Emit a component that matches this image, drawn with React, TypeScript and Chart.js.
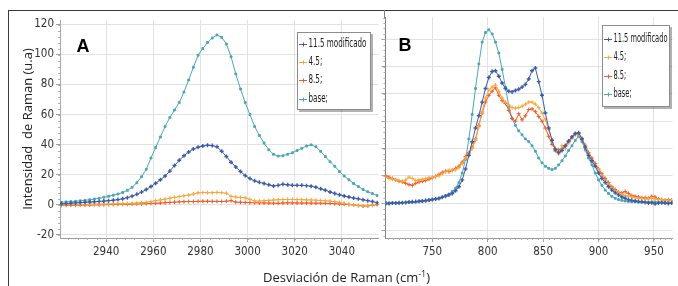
import React, { useEffect, useRef } from "react";
import { Chart, registerables } from "chart.js";

Chart.register(...registerables);

const SERIES_NAMES = ["11.5 modificado", "4.5;", "8.5;", "base;"];
const SERIES_COLORS = ["#3D5CA8", "#F8A53C", "#EF5B27", "#4BA7B7"];
const POINT_STYLES = ["cross", "cross", "cross", "rect"];

// ---------- Panel A ----------
const xA = [
  2921, 2923, 2925, 2927, 2929, 2931, 2933, 2935, 2937, 2939,
  2941, 2943, 2945, 2947, 2949, 2951, 2953, 2955, 2957, 2959,
  2961, 2963, 2965, 2967, 2969, 2971, 2973, 2975, 2977, 2979,
  2981, 2983, 2985, 2987, 2989, 2991, 2993, 2995, 2997, 2999,
  3001, 3003, 3005, 3007, 3009, 3011, 3013, 3015, 3017, 3019,
  3021, 3023, 3025, 3027, 3029, 3031, 3033, 3035, 3037, 3039,
  3041, 3043, 3045, 3047, 3049, 3051, 3053, 3055,
];
const a115 = [
  0.5, 0.7, 0.9, 1.1, 1.3, 1.5, 1.7, 1.9, 2.1, 2.3,
  2.6, 2.9, 3.3, 3.8, 4.6, 5.6, 6.8, 8.3, 10, 12,
  14.2, 16.5, 19, 22.3, 26, 29.5, 32.5, 35, 37, 38.2,
  39, 39.5, 39.3, 38.5, 35.5, 32, 28.2, 25, 22, 19.3,
  17.3, 15.8, 14.8, 14, 13.2, 12.4, 12.8, 13.5, 13.2, 12.8,
  12.8, 12.8, 12.6, 12.2, 11.5, 10.5, 9.5, 8.4, 7.4, 6.5,
  5.7, 5.0, 4.3, 3.8, 3.2, 2.6, 2.0, 1.2,
];
const a45 = [
  -0.3, -0.2, 0, 0, 0.1, 0.1, 0.2, 0.2, 0.3, 0.3,
  0.4, 0.5, 0.5, 0.6, 0.7, 0.8, 1.0, 1.2, 1.5, 2.0,
  2.6, 3.1, 3.6, 4.2, 4.8, 5.3, 5.8, 6.3, 7.0, 7.8,
  8.0, 7.9, 7.9, 8.1, 7.9, 7.6, 5.5, 5.0, 4.7, 4.5,
  3.5, 2.4, 2.3, 2.5, 2.8, 3.0, 3.2, 3.3, 3.4, 3.4,
  3.3, 3.2, 3.1, 3.0, 2.9, 2.7, 2.5, 2.3, 2.0, 1.5,
  0.8, 0.2, -0.3, -0.7, -1.0, -0.8, -0.3, 0.2,
];
const a85 = [
  -0.6, -0.5, -0.5, -0.4, -0.4, -0.3, -0.3, -0.2, -0.2, -0.1,
  0, 0, 0.1, 0.2, 0.2, 0.3, 0.4, 0.5, 0.6, 0.7,
  0.8, 1.0, 1.2, 1.4, 1.6, 1.8, 1.9, 2.0, 2.0, 2.1,
  2.2, 2.2, 2.1, 2.1, 2.0, 2.2, 2.6, 1.6, 1.5, 1.4,
  1.3, 1.2, 1.1, 1.0, 1.0, 0.9, 0.8, 1.0, 1.1, 1.1,
  1.0, 1.0, 1.0, 1.0, 0.9, 0.9, 0.8, 0.7, 0.6, 0.4,
  0.2, 0, -0.3, -0.7, -1.0, -0.9, -0.5, -0.1,
];
const aBase = [
  1.5, 1.8, 2.0, 2.2, 2.5, 2.8, 3.2, 3.7, 4.2, 4.8,
  5.5, 6.2, 7.0, 8.0, 9.5, 11.5, 14.5, 18.5, 23.5, 31,
  38, 45, 52, 58, 63, 68, 75, 83, 91.5, 99.5,
  104, 108, 111, 113, 111.5, 107, 98.5, 87, 77, 68,
  60, 52, 46, 41, 36.5, 33.5, 32.3, 32.5, 33.5, 34.5,
  36, 37.5, 39, 39.8, 38.5, 35.5, 32, 28.5, 25.5, 22,
  19, 16.5, 14, 12, 10, 8.5, 7.3, 6,
];
const xTicksA = [2940, 2960, 2980, 3000, 3020, 3040];
const yTicksA = [-20, 0, 20, 40, 60, 80, 100, 120];

// ---------- Panel B ----------
const xB = [
  708, 711, 714, 717, 720, 723, 726, 729, 732, 735,
  738, 741, 744, 747, 750, 753, 756, 759, 762, 765,
  768, 771, 774, 777, 780, 783, 786, 789, 792, 795,
  798, 801, 804, 807, 810, 813, 816, 819, 822, 825,
  828, 831, 834, 837, 840, 843, 846, 849, 852, 855,
  858, 861, 864, 867, 870, 873, 876, 879, 882, 885,
  888, 891, 894, 897, 900, 903, 906, 909, 912, 915,
  918, 921, 924, 927, 930, 933, 936, 939, 942, 945,
  948, 951, 954, 957, 960, 963, 966,
];
const b115 = [
  -0.5, -0.3, 0, 0, 0.2, 0.3, 0.5, 0.7, 0.9, 1.1,
  1.3, 1.6, 1.9, 2.2, 2.6, 3.0, 3.4, 4.2, 5.0, 6.0,
  7.0, 9.0, 12, 17, 25, 35, 45, 55, 64, 74,
  84, 92, 96.5, 97, 93, 88, 84, 82, 81.5, 82.5,
  83.5, 85, 87, 91, 97, 99, 89, 79, 66, 55,
  46, 39, 37, 38.5, 42, 45.5, 48.5, 51, 51.5, 47,
  41, 35, 31, 27, 22, 18, 15, 12, 9.5, 7.5,
  6, 4.5, 3.5, 2.5, 2, 1.5, 1.2, 1, 0.5, 0,
  0.3, -0.5, 0, 0.3, 0, -0.3, 0,
];
const b45 = [
  19, 18, 17.5, 17, 16.5, 16, 17, 19, 18, 16.5,
  17, 17.5, 18, 18.5, 19, 19.5, 20, 21.5, 23, 24,
  24, 24.5, 26, 29, 33, 36, 40, 46, 56, 67,
  77, 83, 85, 86.5, 82, 77, 74, 72, 70, 69.5,
  70, 71, 72.5, 74, 74, 72.5, 70, 66, 61, 54,
  46, 38, 36, 42, 40, 44, 47.5, 50, 50.5, 47,
  42, 36, 31, 27.5, 24, 20, 16.5, 13.5, 11, 9,
  7.5, 6.5, 5.5, 5, 4.5, 4, 3.5, 3.5, 3, 3,
  3.5, 3, 2.5, 2.5, 2, 2, 2,
];
const b85 = [
  20, 19, 18, 17, 16, 15.5, 14.5, 13.5, 13, 14.5,
  15.5, 16, 16.5, 17.5, 18.5, 19.5, 21, 22.5, 23.5, 23,
  24, 25.5, 27, 30, 34, 37, 41, 47, 57, 66,
  74, 79, 82, 84.5, 79, 75, 73, 68, 62, 60,
  65.5, 61, 64, 68.5, 69, 67, 63.5, 60, 55, 49,
  43, 40, 39, 40, 42, 45, 48.5, 50.5, 51, 47.5,
  42.5, 37, 33, 29, 25, 21.5, 18, 15, 12, 10,
  8, 7.5, 8.5, 7, 5.5, 5, 4.5, 4, 4, 3.5,
  5, 4.5, 3, 2.5, 2, 2.5, 2,
];
const bBase = [
  0.5, 0, 0, 0, 0, 0.2, 0.3, 0.5, 0.6, 0.8,
  1.0, 1.2, 1.5, 2.0, 2.4, 3.0, 3.6, 4.4, 5.4, 6.6,
  8.5, 11, 15, 22, 32, 47, 65, 84, 102, 118,
  125, 127, 124, 118, 110, 98, 85, 71, 62, 57,
  53, 50, 47, 45, 42, 38, 33, 29.5, 27, 25.5,
  24.5, 25.5, 28, 31, 34.5, 38.5, 42, 46, 49, 45,
  39, 33, 28, 22, 17, 13, 9.5, 7, 5, 3.5,
  2.5, 2, 1.5, 1.2, 1, 1, 0.8, 0.8, 0.8, 0.8,
  0.9, 0.8, 0.7, 0.6, 0.5, 0.4, 0.3,
];
const xTicksB = [750, 800, 850, 900, 950];
const yTicksB = [-20, 0, 20, 40, 60, 80, 100, 120];

const TICK_FONT =
  '"Liberation Sans Narrow", "DejaVu Sans Condensed", "Liberation Sans", sans-serif';

const minorTicks = {
  id: "minorTicks",
  afterDraw(chart: any, _a: any, o: any) {
    const { ctx, chartArea } = chart;
    const xs = chart.scales.x;
    const ys = chart.scales.y;
    ctx.save();
    ctx.strokeStyle = o.color;
    ctx.lineWidth = 1;
    ctx.beginPath();
    for (let v = Math.ceil(xs.min / o.xStep) * o.xStep; v <= xs.max; v += o.xStep) {
      const px = Math.round(xs.getPixelForValue(v)) + 0.5;
      ctx.moveTo(px, chartArea.bottom);
      ctx.lineTo(px, chartArea.bottom + o.len);
    }
    for (let v = Math.ceil(ys.min / o.yStep) * o.yStep; v <= ys.max; v += o.yStep) {
      const py = Math.round(ys.getPixelForValue(v)) + 0.5;
      ctx.moveTo(chartArea.left - o.len, py);
      ctx.lineTo(chartArea.left, py);
    }
    ctx.stroke();
    ctx.restore();
  },
};

const boxLegend = {
  id: "boxLegend",
  afterDraw(chart: any, _a: any, o: any) {
    const ctx = chart.ctx;
    ctx.save();
    ctx.fillStyle = "rgba(0,0,0,0.3)";
    ctx.fillRect(o.x + 2, o.y + 2, o.w, o.h);
    ctx.fillStyle = "#fff";
    ctx.fillRect(o.x, o.y, o.w, o.h);
    ctx.strokeStyle = "#8c8c8c";
    ctx.lineWidth = 1;
    ctx.strokeRect(o.x + 0.5, o.y + 0.5, o.w - 1, o.h - 1);
    ctx.font = `${o.size}px ${TICK_FONT}`;
    const longest = Math.max(
      ...chart.data.datasets.map((d: any) => ctx.measureText(d.label).width)
    );
    const sx = o.textW / longest;
    chart.data.datasets.forEach((ds: any, i: number) => {
      const cy = Math.round(o.y + o.firstY + i * o.rowH) + 0.5;
      ctx.strokeStyle = ds.borderColor;
      ctx.lineWidth = 1;
      ctx.beginPath();
      ctx.moveTo(o.x + 2, cy);
      ctx.lineTo(o.x + 10, cy);
      ctx.moveTo(o.x + 6.5, cy - 2);
      ctx.lineTo(o.x + 6.5, cy + 2);
      ctx.stroke();
      ctx.save();
      ctx.translate(o.x + o.textX, cy);
      ctx.scale(sx, 1);
      ctx.fillStyle = "#1a1a1a";
      ctx.textBaseline = "middle";
      ctx.textAlign = "left";
      ctx.fillText(ds.label, 0, 0);
      ctx.restore();
    });
    ctx.font = `bold ${o.letterSize}px "Liberation Sans", Arial, sans-serif`;
    ctx.fillStyle = "#000";
    ctx.textAlign = "center";
    ctx.textBaseline = "middle";
    ctx.fillText(o.letter, o.lx, o.ly);
    ctx.restore();
  },
};

function buildConfig(p: any): any {
  return {
    type: "line",
    data: {
      datasets: p.series.map((s: number[], i: number) => ({
        label: SERIES_NAMES[i],
        data: p.x.map((x: number, j: number) => ({ x, y: s[j] })),
        borderColor: SERIES_COLORS[i],
        backgroundColor: SERIES_COLORS[i],
        borderWidth: 1,
        pointStyle: POINT_STYLES[i],
        pointRadius: i === 3 ? 1.3 : 2,
        pointBorderWidth: i === 0 ? 1.4 : 1,
        tension: 0,
        fill: false,
      })),
    },
    plugins: [minorTicks, boxLegend],
    options: {
      responsive: false,
      animation: false,
      events: [],
      layout: { padding: { top: p.padTop, left: 0, right: 0, bottom: 0 } },
      plugins: {
        legend: { display: false },
        tooltip: { enabled: false },
        minorTicks: { xStep: p.minorX, yStep: 4, len: 2, color: "#b0b0b0" },
        boxLegend: p.legend,
      },
      scales: {
        x: {
          type: "linear",
          min: p.xMin,
          max: p.xMax,
          afterBuildTicks: (s: any) => {
            s.ticks = p.xTicks.map((v: number) => ({ value: v }));
          },
          afterFit: (s: any) => {
            s.height = 33;
          },
          grid: { color: "#e2e2e2", tickLength: 4, tickColor: "#a0a0a0" },
          border: { color: "#9a9a9a" },
          ticks: {
            font: { family: TICK_FONT, size: 11.5 },
            color: "#333",
            padding: 3,
            maxRotation: 0,
            autoSkip: false,
            callback: (v: any) => String(v),
          },
        },
        y: {
          type: "linear",
          min: p.yMin,
          max: p.yMax,
          afterBuildTicks: (s: any) => {
            s.ticks = p.yTicks.map((v: number) => ({ value: v }));
          },
          afterFit: (s: any) => {
            s.width = p.yWidth;
          },
          grid: { color: "#e2e2e2", tickLength: 4, tickColor: "#a0a0a0" },
          border: { color: p.yBorder },
          title: p.yTitle
            ? {
                display: true,
                text: p.yTitle,
                font: { family: '"Open Sans", sans-serif', size: 13 },
                color: "#222",
                padding: { top: 11, bottom: 0 },
              }
            : { display: false },
          ticks: {
            display: p.yLabels,
            font: { family: TICK_FONT, size: 11.5 },
            color: "#333",
            padding: 2,
            autoSkip: false,
            callback: (v: any) => String(v),
          },
        },
      },
    },
  };
}

export default function App() {
  const refA = useRef<HTMLCanvasElement>(null);
  const refB = useRef<HTMLCanvasElement>(null);

  useEffect(() => {
    const ca = new Chart(
      refA.current as HTMLCanvasElement,
      buildConfig({
        x: xA,
        series: [a115, a45, a85, aBase],
        xMin: 2920.4,
        xMax: 3055.6,
        yMin: -22.3,
        yMax: 123,
        xTicks: xTicksA,
        yTicks: yTicksA,
        yWidth: 51,
        yLabels: true,
        yBorder: "#a8a8a8",
        yTitle: "Intensidad  de Raman (u.a)",
        padTop: 9,
        minorX: 4,
        legend: {
          x: 288, y: 21, w: 74, h: 78, firstY: 12, rowH: 18.2,
          textX: 11.5, textW: 58, size: 11.5,
          letter: "A", lx: 74, ly: 36, letterSize: 18,
        },
      })
    );
    const cb = new Chart(
      refB.current as HTMLCanvasElement,
      buildConfig({
        x: xB,
        series: [b115, b45, b85, bBase],
        xMin: 707.7,
        xMax: 966.8,
        yMin: -25.6,
        yMax: 136.4,
        xTicks: xTicksB,
        yTicks: yTicksB,
        yWidth: 4,
        yLabels: false,
        yBorder: "#808080",
        yTitle: null,
        padTop: 6,
        minorX: 5,
        legend: {
          x: 222, y: 14, w: 68, h: 82, firstY: 14, rowH: 18.4,
          textX: 11.5, textW: 54, size: 11.5,
          letter: "B", lx: 25, ly: 35, letterSize: 18,
        },
      })
    );
    return () => {
      ca.destroy();
      cb.destroy();
    };
  }, []);

  return (
    <div
      style={{
        position: "absolute",
        left: 0,
        top: 0,
        width: 678,
        height: 286,
        overflow: "hidden",
        background: "#fff",
      }}
    >
      <div style={{ position: "absolute", left: 8, top: 10, width: 670, height: 1, background: "#3a3a3a" }} />
      <div style={{ position: "absolute", left: 8, top: 10, width: 1, height: 276, background: "#3a3a3a" }} />
      <div style={{ position: "absolute", left: 384, top: 10, width: 1, height: 8, background: "#808080" }} />
      <canvas
        ref={refA}
        width={375}
        height={260}
        style={{ position: "absolute", left: 9, top: 11, display: "block" }}
      />
      <canvas
        ref={refB}
        width={298}
        height={260}
        style={{ position: "absolute", left: 380, top: 11, display: "block" }}
      />
      <div
        style={{
          position: "absolute",
          left: 263,
          top: 268,
          fontFamily: '"Open Sans", sans-serif',
          fontSize: 13,
          lineHeight: "18px",
          color: "#222",
          whiteSpace: "nowrap",
        }}
      >
        Desviación de Raman (cm
        <span style={{ fontSize: 9, position: "relative", top: -5 }}>-1</span>)
      </div>
    </div>
  );
}
